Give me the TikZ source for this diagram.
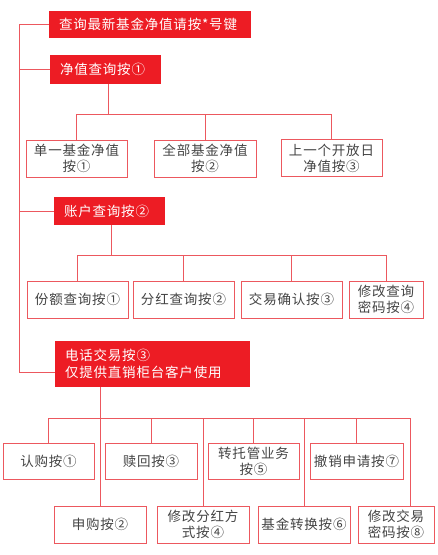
\documentclass[tikz,border=0pt]{standalone}
\usepackage{fontspec}
\newfontfamily\cjk[LetterSpace=6]{Noto Sans CJK SC}
\usepackage{tikz}
\usetikzlibrary{positioning}
\definecolor{hdred}{RGB}{237,28,36}
\definecolor{lnred}{RGB}{236,88,94}
\definecolor{txgray}{RGB}{68,68,68}
\tikzset{
  hd/.style={fill=hdred, text=white, font=\cjk\fontsize{13.5}{17.5}\selectfont,
             align=left, inner xsep=10pt, inner ysep=0pt},
  bx/.style={draw=lnred, line width=1pt, fill=white, text=txgray,
             font=\cjk\fontsize{13.5}{16}\selectfont, align=center,
             inner sep=1pt, minimum height=37pt},
  ln/.style={draw=lnred, line width=1pt}
}

\begin{document}
\begin{tikzpicture}[x=1pt, y=-1pt]
  \useasboundingbox (0,0) rectangle (438,555);
  % red headings
  \node[hd, text width=182pt, minimum height=27pt] (r1) at (150,24.5) {查询最新基金净值请按*号键};
  \node[hd, text width=91pt, minimum height=29pt] (r2) at (105.5,69.5) {净值查询按①};
  \node[hd, text width=91pt, minimum height=28pt] (r3) at (109.5,211) {账户查询按②};
  \node[hd, text width=175pt, minimum height=46pt] (r4) at (152.5,364) {电话交易按③\\仅提供直销柜台客户使用};
  % trunk on the left
  \coordinate (tk) at (19,0);
  \coordinate (r4in) at ([yshift=-8pt]r4.west);
  \draw[ln] (tk |- r1.west) -- (tk |- r4in);
  \foreach \n in {r1,r2,r3} \draw[ln] (tk |- \n.west) -- (\n.west);
  \draw[ln] (tk |- r4in) -- (r4in);
  % net value query
  \node[bx, minimum width=101pt] (nv1) at (76.5,158.5) {单一基金净值\\按①};
  \node[bx, minimum width=102pt] (nv2) at (205,158.5) {全部基金净值\\按②};
  \node[bx, minimum width=101pt] (nv3) at (331.5,158) {上一个开放日\\净值按③};
  \coordinate (bus1) at (0,114);
  \draw[ln] ([xshift=2.5pt]r2.south) -- ([xshift=2.5pt]r2.south |- bus1);
  \draw[ln] (nv1.north) -- (nv1.north |- bus1) -- (nv3.north |- bus1) -- (nv3.north);
  \draw[ln] (nv2.north) -- (nv2.north |- bus1);
  % account query
  \node[bx, minimum width=101pt] (ac1) at (77.5,299.5) {份额查询按①};
  \node[bx, minimum width=101pt] (ac2) at (183.5,299.5) {分红查询按②};
  \node[bx, minimum width=101pt] (ac3) at (291.5,299.5) {交易确认按③};
  \node[bx, minimum width=74pt] (ac4) at (386,299.5) {修改查询\\密码按④};
  \coordinate (bus2) at (0,255);
  \draw[ln] ([xshift=1.5pt]r3.south) -- ([xshift=1.5pt]r3.south |- bus2);
  \draw[ln] (ac1.north) -- (ac1.north |- bus2) -- (ac4.north |- bus2) -- (ac4.north);
  \foreach \n in {ac2,ac3} \draw[ln] (\n.north) -- (\n.north |- bus2);
  % phone trading
  \node[bx, minimum width=91pt, minimum height=36pt] (tr1) at (48.5,461) {认购按①};
  \node[bx, minimum width=92pt, minimum height=36pt] (tr3) at (151,461) {赎回按③};
  \node[bx, minimum width=91pt, minimum height=36pt] (tr5) at (253.5,461) {转托管业务\\按⑤};
  \node[bx, minimum width=93pt, minimum height=36pt] (tr7) at (356.5,461) {撤销申请按⑦};
  \node[bx, minimum width=92pt] (tr2) at (100,524.5) {申购按②};
  \node[bx, minimum width=92pt] (tr4) at (203,524.5) {修改分红方\\式按④};
  \node[bx, minimum width=92pt] (tr6) at (304,524.5) {基金转换按⑥};
  \node[bx, minimum width=76pt] (tr8) at (396,524.5) {修改交易\\密码按⑧};
  \coordinate (bus3) at (0,418);
  \coordinate (tr8in) at ([xshift=14pt]tr8.north);
  \draw[ln] (r4.south -| tr2.north) -- (tr2.north);
  \draw[ln] (tr1.north) -- (tr1.north |- bus3) -- (tr8in |- bus3) -- (tr8in);
  \foreach \n in {tr3,tr4,tr5,tr6,tr7} \draw[ln] (\n.north) -- (\n.north |- bus3);
\end{tikzpicture}
\end{document}
